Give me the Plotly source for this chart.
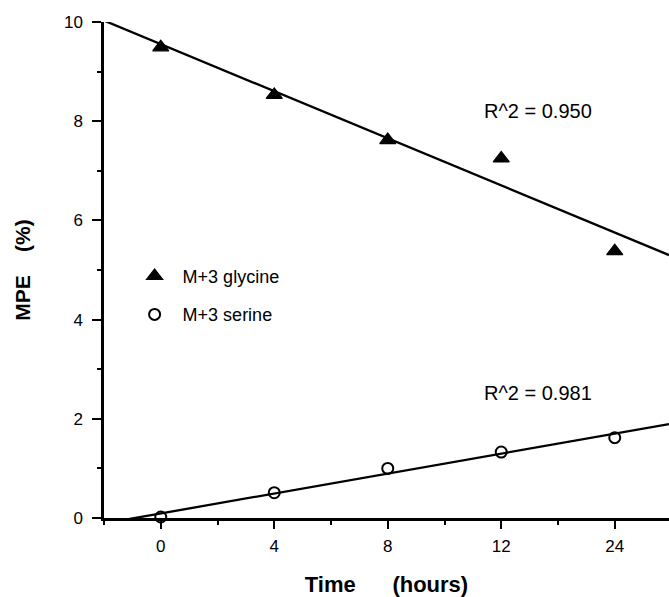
import numpy as np
import plotly.graph_objects as go

# ---- data ----
time_labels = ["0", "4", "8", "12", "24"]          # hours (equally spaced categories)
time_pos = [0, 1, 2, 3, 4]                          # category positions on the axis
glycine_mpe = [9.49, 8.53, 7.62, 7.25, 5.38]        # M+3 glycine MPE (%)
serine_mpe = [0.02, 0.51, 1.00, 1.33, 1.62]         # M+3 serine MPE (%)
glycine_r2_text = "R^2 = 0.950"
serine_r2_text = "R^2 = 0.981"
y_ticks = [0, 2, 4, 6, 8, 10]
y_minor = [1, 3, 5, 7, 9]
x_minor = [-0.5, 0.5, 1.5, 2.5, 3.5]

X_RANGE = [-0.5, 4.478]
FONT = "Liberation Sans, Arial, Helvetica, sans-serif"

# linear fits (regression lines) computed from the data
gly_fit = np.polyfit(time_pos, glycine_mpe, 1)
ser_fit = np.polyfit(time_pos, serine_mpe, 1)
fit_x = np.array(X_RANGE)

fig = go.Figure()

fig.add_trace(go.Scatter(
    x=fit_x, y=np.polyval(gly_fit, fit_x), mode="lines",
    line=dict(color="black", width=2.3), showlegend=False, hoverinfo="skip"))
fig.add_trace(go.Scatter(
    x=fit_x, y=np.polyval(ser_fit, fit_x), mode="lines",
    line=dict(color="black", width=2.3), showlegend=False, hoverinfo="skip"))

fig.add_trace(go.Scatter(
    x=time_pos, y=glycine_mpe, mode="markers", name="M+3 glycine",
    legendgroup="g",
    marker=dict(symbol="triangle-up", size=14, color="black",
                line=dict(color="black", width=1.2)),
    cliponaxis=False))
fig.add_trace(go.Scatter(
    x=time_pos, y=serine_mpe, mode="markers", name="M+3 serine",
    legendgroup="s",
    marker=dict(symbol="circle-open", size=11, color="black",
                line=dict(color="black", width=2)),
    cliponaxis=False))

fig.add_annotation(x=2.83, y=8.2, xref="x", yref="y", text=glycine_r2_text,
                   showarrow=False, xanchor="left", yanchor="middle",
                   font=dict(family=FONT, size=20, color="black"))
fig.add_annotation(x=2.83, y=2.53, xref="x", yref="y", text=serine_r2_text,
                   showarrow=False, xanchor="left", yanchor="middle",
                   font=dict(family=FONT, size=20, color="black"))

fig.update_layout(
    width=669, height=597,
    margin=dict(l=104, r=0, t=22, b=79),
    paper_bgcolor="white", plot_bgcolor="white",
    font=dict(family=FONT, size=17, color="black"),
    legend=dict(x=0.04, y=0.449, xanchor="left", yanchor="middle",
                bgcolor="rgba(0,0,0,0)", itemwidth=46,
                tracegroupgap=12,
                font=dict(family=FONT, size=18, color="black")),
    xaxis=dict(
        range=X_RANGE, tickmode="array", tickvals=time_pos, ticktext=time_labels,
        showline=True, linecolor="black", linewidth=2.5,
        ticks="outside", ticklen=8, tickwidth=2, tickcolor="black",
        minor=dict(tickvals=x_minor, ticklen=4, tickwidth=2, tickcolor="black", ticks="outside"),
        showgrid=False, zeroline=False, ticklabelstandoff=3,
        tickfont=dict(family=FONT, size=17),
        title=dict(text="<b>Time&nbsp;&nbsp;&nbsp;&nbsp;&nbsp;&nbsp;(hours)</b>",
                   font=dict(family=FONT, size=22), standoff=22),
    ),
    yaxis=dict(
        range=[0, 10], tickmode="array", tickvals=y_ticks,
        showline=True, linecolor="black", linewidth=2.5,
        ticks="outside", ticklen=9, tickwidth=2, tickcolor="black",
        minor=dict(tickvals=y_minor, ticklen=4, tickwidth=2, tickcolor="black", ticks="outside"),
        showgrid=False, zeroline=False, ticklabelstandoff=6,
        tickfont=dict(family=FONT, size=17),
        title=dict(text="<b>MPE&nbsp;&nbsp;&nbsp;&nbsp;(%)</b>",
                   font=dict(family=FONT, size=21), standoff=28),
    ),
)

fig.write_html("out.html", config={"displayModeBar": False},
               post_script="document.body.style.margin='0';")
